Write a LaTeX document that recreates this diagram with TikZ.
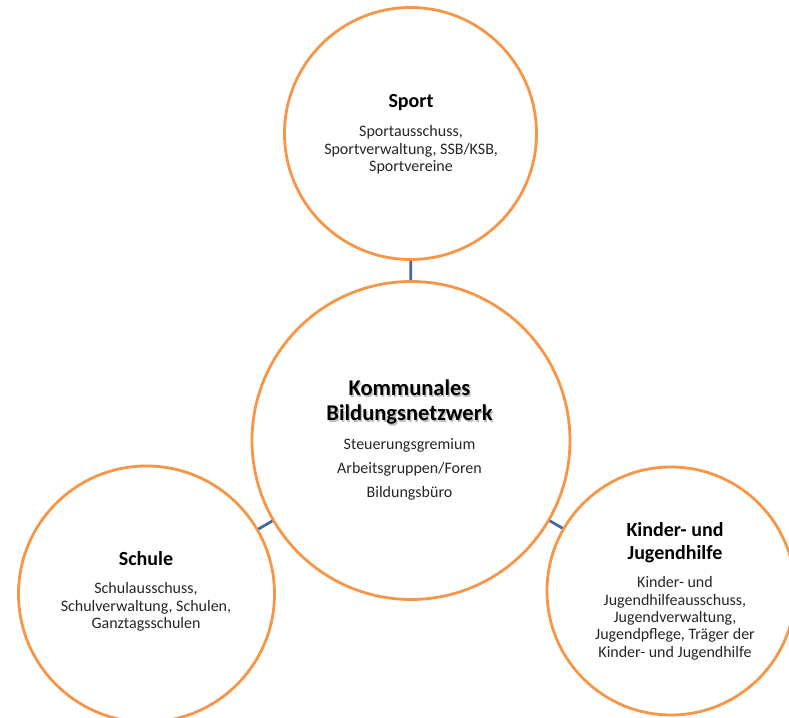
\documentclass[tikz,border=0pt]{standalone}
\usepackage{fontspec}
\setmainfont{Carlito}
\definecolor{ringc}{HTML}{F79646}
\definecolor{linkc}{HTML}{44699B}
\definecolor{txtc}{HTML}{262626}
\newcommand{\mklines}[1]{\begin{tabular}[t]{@{}c@{}}#1\end{tabular}}
\tikzset{
  ring/.style={circle, draw=ringc, line width=2.8pt, fill=white, inner sep=0pt},
  linkline/.style={draw=linkc, line width=2.8pt},
  headtxt/.style={anchor=base, inner sep=0pt, text=black, font=\bfseries\fontsize{20}{23}\selectfont},
  titletxt/.style={anchor=base, inner sep=0pt, text=black, font=\bfseries\fontsize{22.5}{25}\selectfont},
  shadowtxt/.style={titletxt, text=black!45, opacity=0.55},
  bodytxt/.style={anchor=base, inner sep=0pt, text=txtc, font=\fontsize{16}{17.3}\selectfont},
  netbody/.style={anchor=base, inner sep=0pt, text=txtc, font=\fontsize{16}{24}\selectfont},
}
\begin{document}
\begin{tikzpicture}[x=1pt,y=1pt]
\useasboundingbox (0,0) rectangle (789,717);
\fill[white] (0,0) rectangle (789,717);
% circles
\node[ring, minimum size=252pt] (sport) at (410.5,583.5) {};
\node[ring, minimum size=318pt] (net) at (411,276.5) {};
\node[ring, minimum size=256pt] (schule) at (146.5,123) {};
\node[ring, minimum size=248pt] (kinder) at (671,126) {};
% connectors
\draw[linkline] (sport) -- (net);
\draw[linkline] (schule) -- (net);
\draw[linkline] (kinder) -- (net);
% Sport
\node[headtxt] (sporth) at (411,609) {Sport};
\node[bodytxt] (sportb) at (411,580) {\mklines{Sportausschuss,\\Sportverwaltung, SSB/KSB,\\Sportvereine}};
% Net
\node[shadowtxt] (netsh) at (410.8,319.5) {\mklines{Kommunales\\Bildungsnetzwerk}};
\node[titletxt] (neth) at (409.5,321) {\mklines{Kommunales\\Bildungsnetzwerk}};
\node[netbody] (netb) at (409.5,267) {\mklines{Steuerungsgremium\\Arbeitsgruppen/Foren\\Bildungsbüro}};
% Schule
\node[headtxt] (schuleh) at (146,151) {Schule};
\node[bodytxt] (schuleb) at (146,123) {\mklines{Schulausschuss,\\Schulverwaltung, Schulen,\\Ganztagsschulen}};
% Kinder
\node[headtxt] (kinderh) at (675,180) {\mklines{Kinder- und\\Jugendhilfe}};
\node[bodytxt] (kinderb) at (675,129) {\mklines{Kinder- und\\Jugendhilfeausschuss,\\Jugendverwaltung,\\Jugendpflege, Träger der\\Kinder- und Jugendhilfe}};
\end{tikzpicture}
\end{document}
